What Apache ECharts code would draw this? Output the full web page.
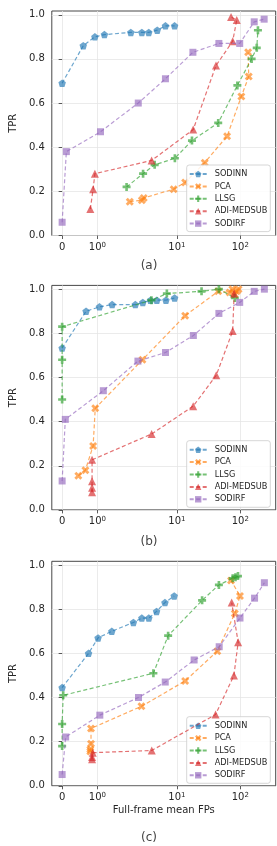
<!DOCTYPE html>
<html><head><meta charset="utf-8">
<script src="https://cdn.jsdelivr.net/npm/echarts@6/dist/echarts.min.js"></script>
<style>html,body{margin:0;padding:0;background:#fff}#c{width:277px;height:846px}</style>
</head><body><div id="c"></div>
<script>
// ---- data: [full-frame mean FPs, TPR] ----
const methods = ['SODINN', 'PCA', 'LLSG', 'ADI-MEDSUB', 'SODIRF'];
const panelLabels = ['(a)', '(b)', '(c)'];
const yTicks = [0, 0.2, 0.4, 0.6, 0.8, 1.0];
const xTicks = [0, 1, 10, 100];
const xTickLabels = ['0', '10{s|0}', '10{s|1}', '10{s|2}'];
const xAxisTitle = 'Full-frame mean FPs';
const yAxisTitle = 'TPR';

const A_SODINN = [[0,0.69],[0.60,0.86],[0.93,0.90],[1.2,0.91],[1.95,0.92],[2.8,0.92],[3.6,0.92],[4.9,0.93],[6.6,0.95],[9.2,0.95]];
const A_PCA = [[1.92,0.153],[2.8,0.16],[3.0,0.17],[8.9,0.21],[13.5,0.24],[27.5,0.33],[62,0.45],[104,0.63],[136,0.72],[133,0.83]];
const A_LLSG = [[1.83,0.22],[2.93,0.28],[4.46,0.32],[9.3,0.35],[17.3,0.43],[44.9,0.51],[90,0.68],[151,0.80],[182,0.85],[190,0.93]];
const A_ADI = [[0.80,0.12],[0.88,0.21],[0.93,0.28],[4.0,0.34],[18.1,0.48],[41.4,0.77],[75.9,0.88],[88,0.976],[71.5,0.99]];
const A_SODIRF = [[0,0.06],[0.12,0.38],[1.09,0.47],[2.46,0.60],[6.6,0.71],[17.9,0.83],[46,0.87],[98,0.87],[166,0.968],[238,0.98]];

const B_SODINN = [[0,0.733],[0.68,0.90],[1.06,0.92],[1.42,0.93],[2.21,0.93],[2.9,0.94],[3.84,0.95],[4.83,0.95],[6.72,0.95],[9.2,0.96]];
const B_PCA = [[0.46,0.155],[0.66,0.18],[0.88,0.29],[0.94,0.46],[2.86,0.68],[13.5,0.88],[44.9,0.99],[68,0.985],[75,1.0],[82,0.975],[88,0.99],[94,1.0]];
const B_LLSG = [[0,0.50],[0,0.68],[0,0.83],[3.97,0.95],[6.95,0.98],[24.5,0.99],[46,1.0],[82,0.96]];
const B_ADI = [[0.85,0.08],[0.85,0.10],[0.85,0.13],[0.85,0.227],[4.0,0.344],[18.1,0.47],[41.8,0.61],[75.9,0.81],[80,0.98]];
const B_SODIRF = [[0,0.131],[0.09,0.41],[1.17,0.54],[2.43,0.674],[6.62,0.713],[18.2,0.79],[46,0.89],[98,0.94],[166,0.99],[240,1.0]];

const C_SODINN = [[0,0.445],[0.75,0.60],[1.02,0.67],[1.41,0.70],[2.06,0.74],[2.8,0.76],[3.61,0.76],[4.78,0.79],[6.48,0.83],[9.07,0.86]];
const C_PCA = [[0.8,0.155],[0.8,0.165],[0.82,0.19],[0.82,0.26],[2.76,0.36],[13.5,0.475],[43.4,0.61],[82,0.78],[99,0.86],[71.5,0.93]];
const C_LLSG = [[0,0.18],[0,0.28],[0.03,0.41],[4.26,0.51],[7.28,0.68],[25,0.84],[46,0.91],[76,0.94],[84,0.945],[92,0.95]];
const C_ADI = [[0.85,0.12],[0.85,0.13],[0.87,0.15],[4.01,0.16],[40.8,0.323],[79.4,0.50],[92.6,0.65],[73.3,0.83]];
const C_SODIRF = [[0,0.051],[0.10,0.221],[1.07,0.32],[2.48,0.40],[6.55,0.47],[18.7,0.57],[46.5,0.63],[99,0.76],[168,0.85],[240,0.92]];

const panels = [
  [A_SODINN, A_PCA, A_LLSG, A_ADI, A_SODIRF],
  [B_SODINN, B_PCA, B_LLSG, B_ADI, B_SODIRF],
  [C_SODINN, C_PCA, C_LLSG, C_ADI, C_SODIRF]
];

// ---- symlog scale (linthresh 2, linscale 1, base 10) ----
const LINTHRESH = 2;
const LINSCALE_ADJ = 1 / (1 - 1 / 10);
function symlog(x) {
  const a = Math.abs(x), s = x < 0 ? -1 : 1;
  if (a <= LINTHRESH) return x / LINTHRESH * LINSCALE_ADJ;
  return s * (LINSCALE_ADJ + Math.log10(a / LINTHRESH));
}
const X_MIN = -0.163, X_MAX = 3.369;
const Y_MAX = 1.017;

// ---- styles ----
const colors = ['#1f77b4', '#ff7f0e', '#2ca02c', '#d62728', '#9467bd'];
const PENT = 'path://M0,-100 L95,-31 L59,81 L-59,81 L-95,-31 Z';
const XMARK = 'path://M47,-94 L94,-47 L47,0 L94,47 L47,94 L0,47 L-47,94 L-94,47 L-47,0 L-94,-47 L-47,-94 L0,-47 Z';
const PLUS = 'path://M-33,-100 L33,-100 L33,-33 L100,-33 L100,33 L33,33 L33,100 L-33,100 L-33,33 L-100,33 L-100,-33 L-33,-33 Z';
const symbols = [PENT, XMARK, PLUS, 'triangle', 'rect'];
const symbolSizes = [7.5, 8, 8, 8, 7];

const FONT = 'DejaVu Sans';
const gridTops = [11, 285.4, 561.3];
const legendTops = [165, 440.7, 716.7];
const GRID_LEFT = 43.3, GRID_W = 232.4, GRID_H = 224.5;

const xTickU = xTicks.map(symlog);

const grids = [], xAxes = [], yAxes = [], series = [], legends = [], graphics = [];
gridTops.forEach((top, p) => {
  grids.push({left: GRID_LEFT, top: top, width: GRID_W, height: GRID_H, show: true,
    borderColor: '#333', borderWidth: 0.9, backgroundColor: 'transparent'});
  xAxes.push({
    gridIndex: p, type: 'value', min: X_MIN, max: X_MAX,
    axisLine: {show: false},
    axisTick: {show: true, length: 3.5, lineStyle: {color: '#333', width: 0.8}, customValues: xTickU},
    splitLine: {show: true, lineStyle: {color: '#e6e6e6', width: 0.8}},
    axisLabel: {
      customValues: xTickU, margin: 6, color: '#262626', fontFamily: FONT, fontSize: 10, lineHeight: 12,
      formatter: v => { const i = xTickU.findIndex(t => Math.abs(t - v) < 1e-6); return i >= 0 ? xTickLabels[i] : ''; },
      rich: {s: {fontSize: 7, lineHeight: 4, verticalAlign: 'top', color: '#262626', fontFamily: FONT}}
    },
    name: p === 2 ? xAxisTitle : '', nameLocation: 'middle', nameGap: 20,
    nameTextStyle: {fontFamily: FONT, fontSize: 10, color: '#262626'}
  });
  yAxes.push({
    gridIndex: p, type: 'value', min: 0, max: Y_MAX,
    axisLine: {show: false},
    axisTick: {show: true, length: 3.5, lineStyle: {color: '#333', width: 0.8}, customValues: yTicks},
    splitLine: {show: true, lineStyle: {color: '#e6e6e6', width: 0.8}},
    axisLabel: {customValues: yTicks, margin: 7, color: '#262626', fontFamily: FONT, fontSize: 10,
      formatter: v => v.toFixed(1)},
    name: yAxisTitle, nameLocation: 'middle', nameGap: 28,
    nameTextStyle: {fontFamily: FONT, fontSize: 10, color: '#262626'}
  });
  panels[p].forEach((d, k) => {
    series.push({
      type: 'line', name: methods[k], xAxisIndex: p, yAxisIndex: p,
      data: d.map(pt => [symlog(pt[0]), pt[1]]),
      symbol: symbols[k], symbolSize: symbolSizes[k], showSymbol: true,
      itemStyle: {color: colors[k], opacity: 0.65},
      lineStyle: {color: colors[k], width: 1.2, type: [4, 2.5], opacity: 0.65},
      animation: false, clip: false, z: 2 + k
    });
  });
  legends.push({
    data: methods, orient: 'vertical', left: 186.7, top: legendTops[p],
    padding: [5, 3, 4, 2], itemWidth: 17, itemHeight: 8, itemGap: 4.4,
    backgroundColor: 'rgba(255,255,255,0.85)', borderColor: '#cccccc', borderWidth: 0.8, borderRadius: 2.5,
    textStyle: {fontFamily: FONT, fontSize: 8.2, color: '#262626', lineHeight: 8, padding: [0, 0, 0, 3]},
    selectedMode: false
  });
});
const labelY = [266.7, 542.7, 839];
labelY.forEach((y, p) => {
  graphics.push({type: 'text', left: 'center', top: y - 7, z: 10,
    style: {text: panelLabels[p], fontFamily: FONT, fontSize: 12, fill: '#444'}});
});
// center panel labels at x=149
graphics.forEach(g => { delete g.left; g.x = 149; g.style.textAlign = 'center'; });

const chart = echarts.init(document.getElementById('c'), null, {renderer: 'canvas'});
chart.setOption({
  animation: false,
  grid: grids, xAxis: xAxes, yAxis: yAxes, series: series, legend: legends, graphic: graphics
});
</script></body></html>
